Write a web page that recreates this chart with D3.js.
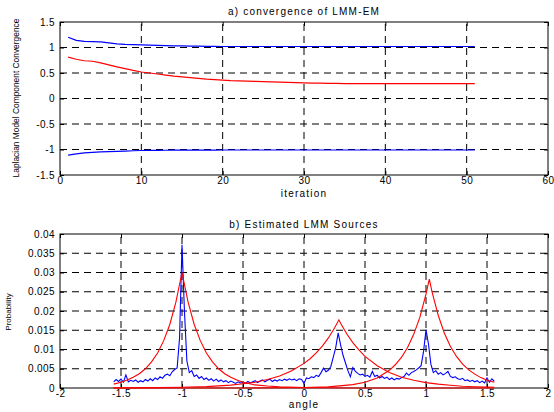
<!DOCTYPE html>
<html>
<head>
<meta charset="utf-8">
<script src="https://cdn.jsdelivr.net/npm/d3@7"></script>
<style>
  body { margin: 0; background: #fff; }
  text { font-family: "Liberation Sans", Arial, sans-serif; fill: #000; }
</style>
</head>
<body>
<script>
// a) convergence of the three Laplacian mixture components per EM iteration
const iterations = d3.range(1, 52);
const compUpper = [1.20, 1.14, 1.12, 1.115, 1.11, 1.09, 1.07, 1.06, 1.055, 1.05,
  1.045, 1.04, 1.035, 1.03, 1.03, 1.028, 1.026, 1.024, 1.022, 1.02,
  1.02, 1.02, 1.02, 1.02, 1.02, 1.02, 1.02, 1.02, 1.02, 1.02,
  1.02, 1.02, 1.02, 1.02, 1.02, 1.02, 1.02, 1.02, 1.02, 1.02,
  1.02, 1.02, 1.02, 1.02, 1.02, 1.02, 1.02, 1.02, 1.02, 1.02, 1.02];
const compMiddle = [0.81, 0.77, 0.74, 0.73, 0.70, 0.66, 0.62, 0.585, 0.55, 0.52,
  0.50, 0.48, 0.46, 0.44, 0.425, 0.41, 0.395, 0.38, 0.37, 0.36,
  0.35, 0.345, 0.34, 0.335, 0.33, 0.325, 0.32, 0.315, 0.31, 0.305,
  0.30, 0.30, 0.297, 0.295, 0.293, 0.292, 0.29, 0.29, 0.29, 0.29,
  0.29, 0.29, 0.29, 0.29, 0.29, 0.29, 0.29, 0.29, 0.29, 0.29, 0.29];
const compLower = [-1.11, -1.087, -1.067, -1.055, -1.045, -1.04, -1.035, -1.03, -1.025, -1.02,
  -1.018, -1.016, -1.015, -1.014, -1.013, -1.012, -1.012, -1.011, -1.011, -1.01,
  -1.01, -1.01, -1.01, -1.01, -1.01, -1.01, -1.01, -1.01, -1.01, -1.01,
  -1.01, -1.01, -1.01, -1.01, -1.01, -1.01, -1.01, -1.01, -1.01, -1.01,
  -1.01, -1.01, -1.01, -1.01, -1.01, -1.01, -1.01, -1.01, -1.01, -1.01, -1.01];

// b) histogram of angles (bins of 0.02 rad from -1.56 to 1.56)
const angleBins = d3.range(157).map(i => -1.56 + i * 0.02);
const histogram = [
  0.0016, 0.0022, 0.0017, 0.0023, 0.0015, 0.0034, 0.0016, 0.0020, 0.0017, 0.0021,
  0.0015, 0.0019, 0.0016, 0.0022, 0.0018, 0.0024, 0.0019, 0.0026, 0.0022, 0.0029,
  0.0025, 0.0033, 0.0036, 0.0032, 0.0042, 0.0048, 0.0052, 0.0130, 0.0372, 0.0200,
  0.0070, 0.0040, 0.0045, 0.0030, 0.0034, 0.0025, 0.0030, 0.0022, 0.0026, 0.0020,
  0.0024, 0.0018, 0.0023, 0.0017, 0.0021, 0.0016, 0.0019, 0.0014, 0.0018, 0.0015,
  0.0012, 0.0016, 0.0013, 0.0015, 0.0012, 0.0017, 0.0013, 0.0016, 0.0019, 0.0014,
  0.0018, 0.0021, 0.0016, 0.0020, 0.0023, 0.0017, 0.0021, 0.0018, 0.0022, 0.0019,
  0.0023, 0.0020, 0.0024, 0.0021, 0.0023, 0.0019, 0.0024, 0.0022, 0.0012, 0.0026,
  0.0024, 0.0029, 0.0027, 0.0033, 0.0030, 0.0040, 0.0052, 0.0042, 0.0046, 0.0056,
  0.0080, 0.0105, 0.0143, 0.0112, 0.0085, 0.0065, 0.0045, 0.0029, 0.0053, 0.0044,
  0.0038, 0.0034, 0.0036, 0.0030, 0.0033, 0.0028, 0.0043, 0.0030, 0.0033, 0.0026,
  0.0030, 0.0025, 0.0028, 0.0022, 0.0026, 0.0021, 0.0025, 0.0023, 0.0027, 0.0030,
  0.0039, 0.0033, 0.0040, 0.0043, 0.0047, 0.0052, 0.0058, 0.0095, 0.0151, 0.0115,
  0.0062, 0.0040, 0.0045, 0.0036, 0.0040, 0.0034, 0.0038, 0.0043, 0.0030, 0.0027,
  0.0029, 0.0024, 0.0022, 0.0025, 0.0019, 0.0021, 0.0017, 0.0020, 0.0016, 0.0019,
  0.0014, 0.0018, 0.0013, 0.0026, 0.0015, 0.0024, 0.0017];

// estimated Laplacian sources, [angle, probability]
const source1 = [[-1.56, 0.0010], [-1.5, 0.0015], [-1.45, 0.0021], [-1.4, 0.0028], [-1.35, 0.0037],
  [-1.3, 0.0050], [-1.25, 0.0068], [-1.2, 0.0091], [-1.15, 0.0123], [-1.1, 0.0165],
  [-1.05, 0.0223], [-1.0, 0.0300], [-0.95, 0.0223], [-0.9, 0.0165], [-0.85, 0.0123],
  [-0.8, 0.0091], [-0.75, 0.0068], [-0.7, 0.0050], [-0.65, 0.0037], [-0.6, 0.0028],
  [-0.55, 0.0021], [-0.5, 0.0015], [-0.4, 0.0008], [-0.3, 0.0005], [-0.2, 0.0003],
  [0.0, 0.0001], [0.4, 0.00001], [1.56, 0]];
const source2 = [[-1.56, 0.00002], [-1.2, 0.00009], [-1.0, 0.00018], [-0.8, 0.00037], [-0.6, 0.00075],
  [-0.5, 0.0011], [-0.4, 0.0015], [-0.3, 0.0022], [-0.2, 0.0031], [-0.1, 0.0045],
  [0.0, 0.0064], [0.05, 0.0076], [0.1, 0.0091], [0.15, 0.0109], [0.2, 0.0130],
  [0.25, 0.0156], [0.286, 0.0177], [0.3, 0.0168], [0.35, 0.0141], [0.4, 0.0118],
  [0.45, 0.0099], [0.5, 0.0082], [0.6, 0.0058], [0.7, 0.0040], [0.8, 0.0028],
  [0.9, 0.0020], [1.0, 0.0014], [1.1, 0.0010], [1.2, 0.0007], [1.3, 0.00047],
  [1.4, 0.00033], [1.5, 0.00023], [1.56, 0.00019]];
const source3 = [[-1.56, 0], [-0.5, 0.00001], [0.0, 0.00009], [0.2, 0.00029], [0.4, 0.00087],
  [0.5, 0.0015], [0.6, 0.0026], [0.7, 0.0046], [0.75, 0.0061], [0.8, 0.0080],
  [0.85, 0.0106], [0.9, 0.0140], [0.95, 0.0184], [1.0, 0.0244], [1.027, 0.0283],
  [1.05, 0.0249], [1.1, 0.0189], [1.15, 0.0143], [1.2, 0.0108], [1.25, 0.0082],
  [1.3, 0.0062], [1.35, 0.0047], [1.4, 0.0036], [1.45, 0.0027], [1.5, 0.0020],
  [1.56, 0.0015]];

const topXTicks = [0, 10, 20, 30, 40, 50, 60];
const topYTicks = [-1.5, -1, -0.5, 0, 0.5, 1, 1.5];
const botXTicks = [-2, -1.5, -1, -0.5, 0, 0.5, 1, 1.5, 2];
const botYTicks = [0, 0.005, 0.01, 0.015, 0.02, 0.025, 0.03, 0.035, 0.04];

const width = 554, height = 412;
const svg = d3.select('body').append('svg')
  .attr('width', width)
  .attr('height', height);

const fmt = d => String(+d.toFixed(3));

function panel(box, xScale, yScale, xTicks, yTicks) {
  const g = svg.append('g');

  // dashed grid
  g.selectAll('.vgrid').data(xTicks.slice(1, -1)).enter().append('line')
    .attr('x1', d => xScale(d)).attr('x2', d => xScale(d))
    .attr('y1', box.bottom).attr('y2', box.top)
    .attr('stroke', '#000').attr('stroke-width', 1)
    .attr('stroke-dasharray', '7,5');
  g.selectAll('.hgrid').data(yTicks.slice(1, -1)).enter().append('line')
    .attr('y1', d => yScale(d)).attr('y2', d => yScale(d))
    .attr('x1', box.left).attr('x2', box.right)
    .attr('stroke', '#000').attr('stroke-width', 1)
    .attr('stroke-dasharray', '7,5');

  const style = sel => {
    sel.selectAll('.domain').remove();
    sel.selectAll('.tick line').attr('stroke', '#000');
    sel.selectAll('text').style('font-size', '10px').style('letter-spacing', '0.4px');
  };

  g.append('g').attr('transform', `translate(0,${box.bottom})`)
    .call(d3.axisBottom(xScale).tickValues(xTicks).tickFormat(fmt).tickSizeInner(-4).tickSizeOuter(0).tickPadding(2))
    .call(style);
  g.append('g').attr('transform', `translate(0,${box.top})`)
    .call(d3.axisTop(xScale).tickValues(xTicks).tickFormat('').tickSizeInner(-4).tickSizeOuter(0))
    .call(style);
  g.append('g').attr('transform', `translate(${box.left},0)`)
    .call(d3.axisLeft(yScale).tickValues(yTicks).tickFormat(fmt).tickSizeInner(-4).tickSizeOuter(0).tickPadding(5))
    .call(style);
  g.append('g').attr('transform', `translate(${box.right},0)`)
    .call(d3.axisRight(yScale).tickValues(yTicks).tickFormat('').tickSizeInner(-4).tickSizeOuter(0))
    .call(style);

  g.append('rect')
    .attr('x', box.left).attr('y', box.top)
    .attr('width', box.right - box.left).attr('height', box.bottom - box.top)
    .attr('fill', 'none').attr('stroke', '#000').attr('stroke-width', 1);
  return g;
}

// ---- top panel
const topBox = { left: 60, right: 548, top: 22, bottom: 175 };
const xTop = d3.scaleLinear().domain([0, 60]).range([topBox.left, topBox.right]);
const yTop = d3.scaleLinear().domain([-1.5, 1.5]).range([topBox.bottom, topBox.top]);
const gTop = panel(topBox, xTop, yTop, topXTicks, topYTicks);

const lineTop = d3.line().x((d, i) => xTop(iterations[i])).y(d => yTop(d));
[[compUpper, '#0000ff'], [compMiddle, '#ff0000'], [compLower, '#0000ff']].forEach(([s, c]) => {
  gTop.append('path').datum(s)
    .attr('fill', 'none').attr('stroke', c).attr('stroke-width', 1.2)
    .attr('d', lineTop);
});

svg.append('text').attr('x', 304).attr('y', 15).attr('text-anchor', 'middle')
  .style('font-size', '10px').style('letter-spacing', '1.2px')
  .text('a) convergence of LMM-EM');
svg.append('text').attr('x', 304).attr('y', 197).attr('text-anchor', 'middle')
  .style('font-size', '10px').style('letter-spacing', '1.2px')
  .text('iteration');
svg.append('text').attr('transform', 'translate(19,98) rotate(-90)').attr('text-anchor', 'middle')
  .style('font-size', '8.4px')
  .text('Laplacian Model Component Convergence');

// ---- bottom panel
const botBox = { left: 60, right: 548, top: 234, bottom: 388 };
const xBot = d3.scaleLinear().domain([-2, 2]).range([botBox.left, botBox.right]);
const yBot = d3.scaleLinear().domain([0, 0.04]).range([botBox.bottom, botBox.top]);
const gBot = panel(botBox, xBot, yBot, botXTicks, botYTicks);

gBot.append('path').datum(histogram)
  .attr('fill', 'none').attr('stroke', '#0000ff').attr('stroke-width', 1.1)
  .attr('d', d3.line().x((d, i) => xBot(angleBins[i])).y(d => yBot(d)));

const lineBot = d3.line().x(d => xBot(d[0])).y(d => yBot(d[1]));
[source1, source2, source3].forEach(s => {
  gBot.append('path').datum(s)
    .attr('fill', 'none').attr('stroke', '#ff0000').attr('stroke-width', 1.1)
    .attr('d', lineBot);
});

svg.append('text').attr('x', 304).attr('y', 228).attr('text-anchor', 'middle')
  .style('font-size', '10px').style('letter-spacing', '1.2px')
  .text('b) Estimated LMM Sources');
svg.append('text').attr('x', 304).attr('y', 408).attr('text-anchor', 'middle')
  .style('font-size', '10px').style('letter-spacing', '1.2px')
  .text('angle');
svg.append('text').attr('transform', 'translate(11,312) rotate(-90)').attr('text-anchor', 'middle')
  .style('font-size', '8px')
  .text('Probability');
</script>
</body>
</html>
